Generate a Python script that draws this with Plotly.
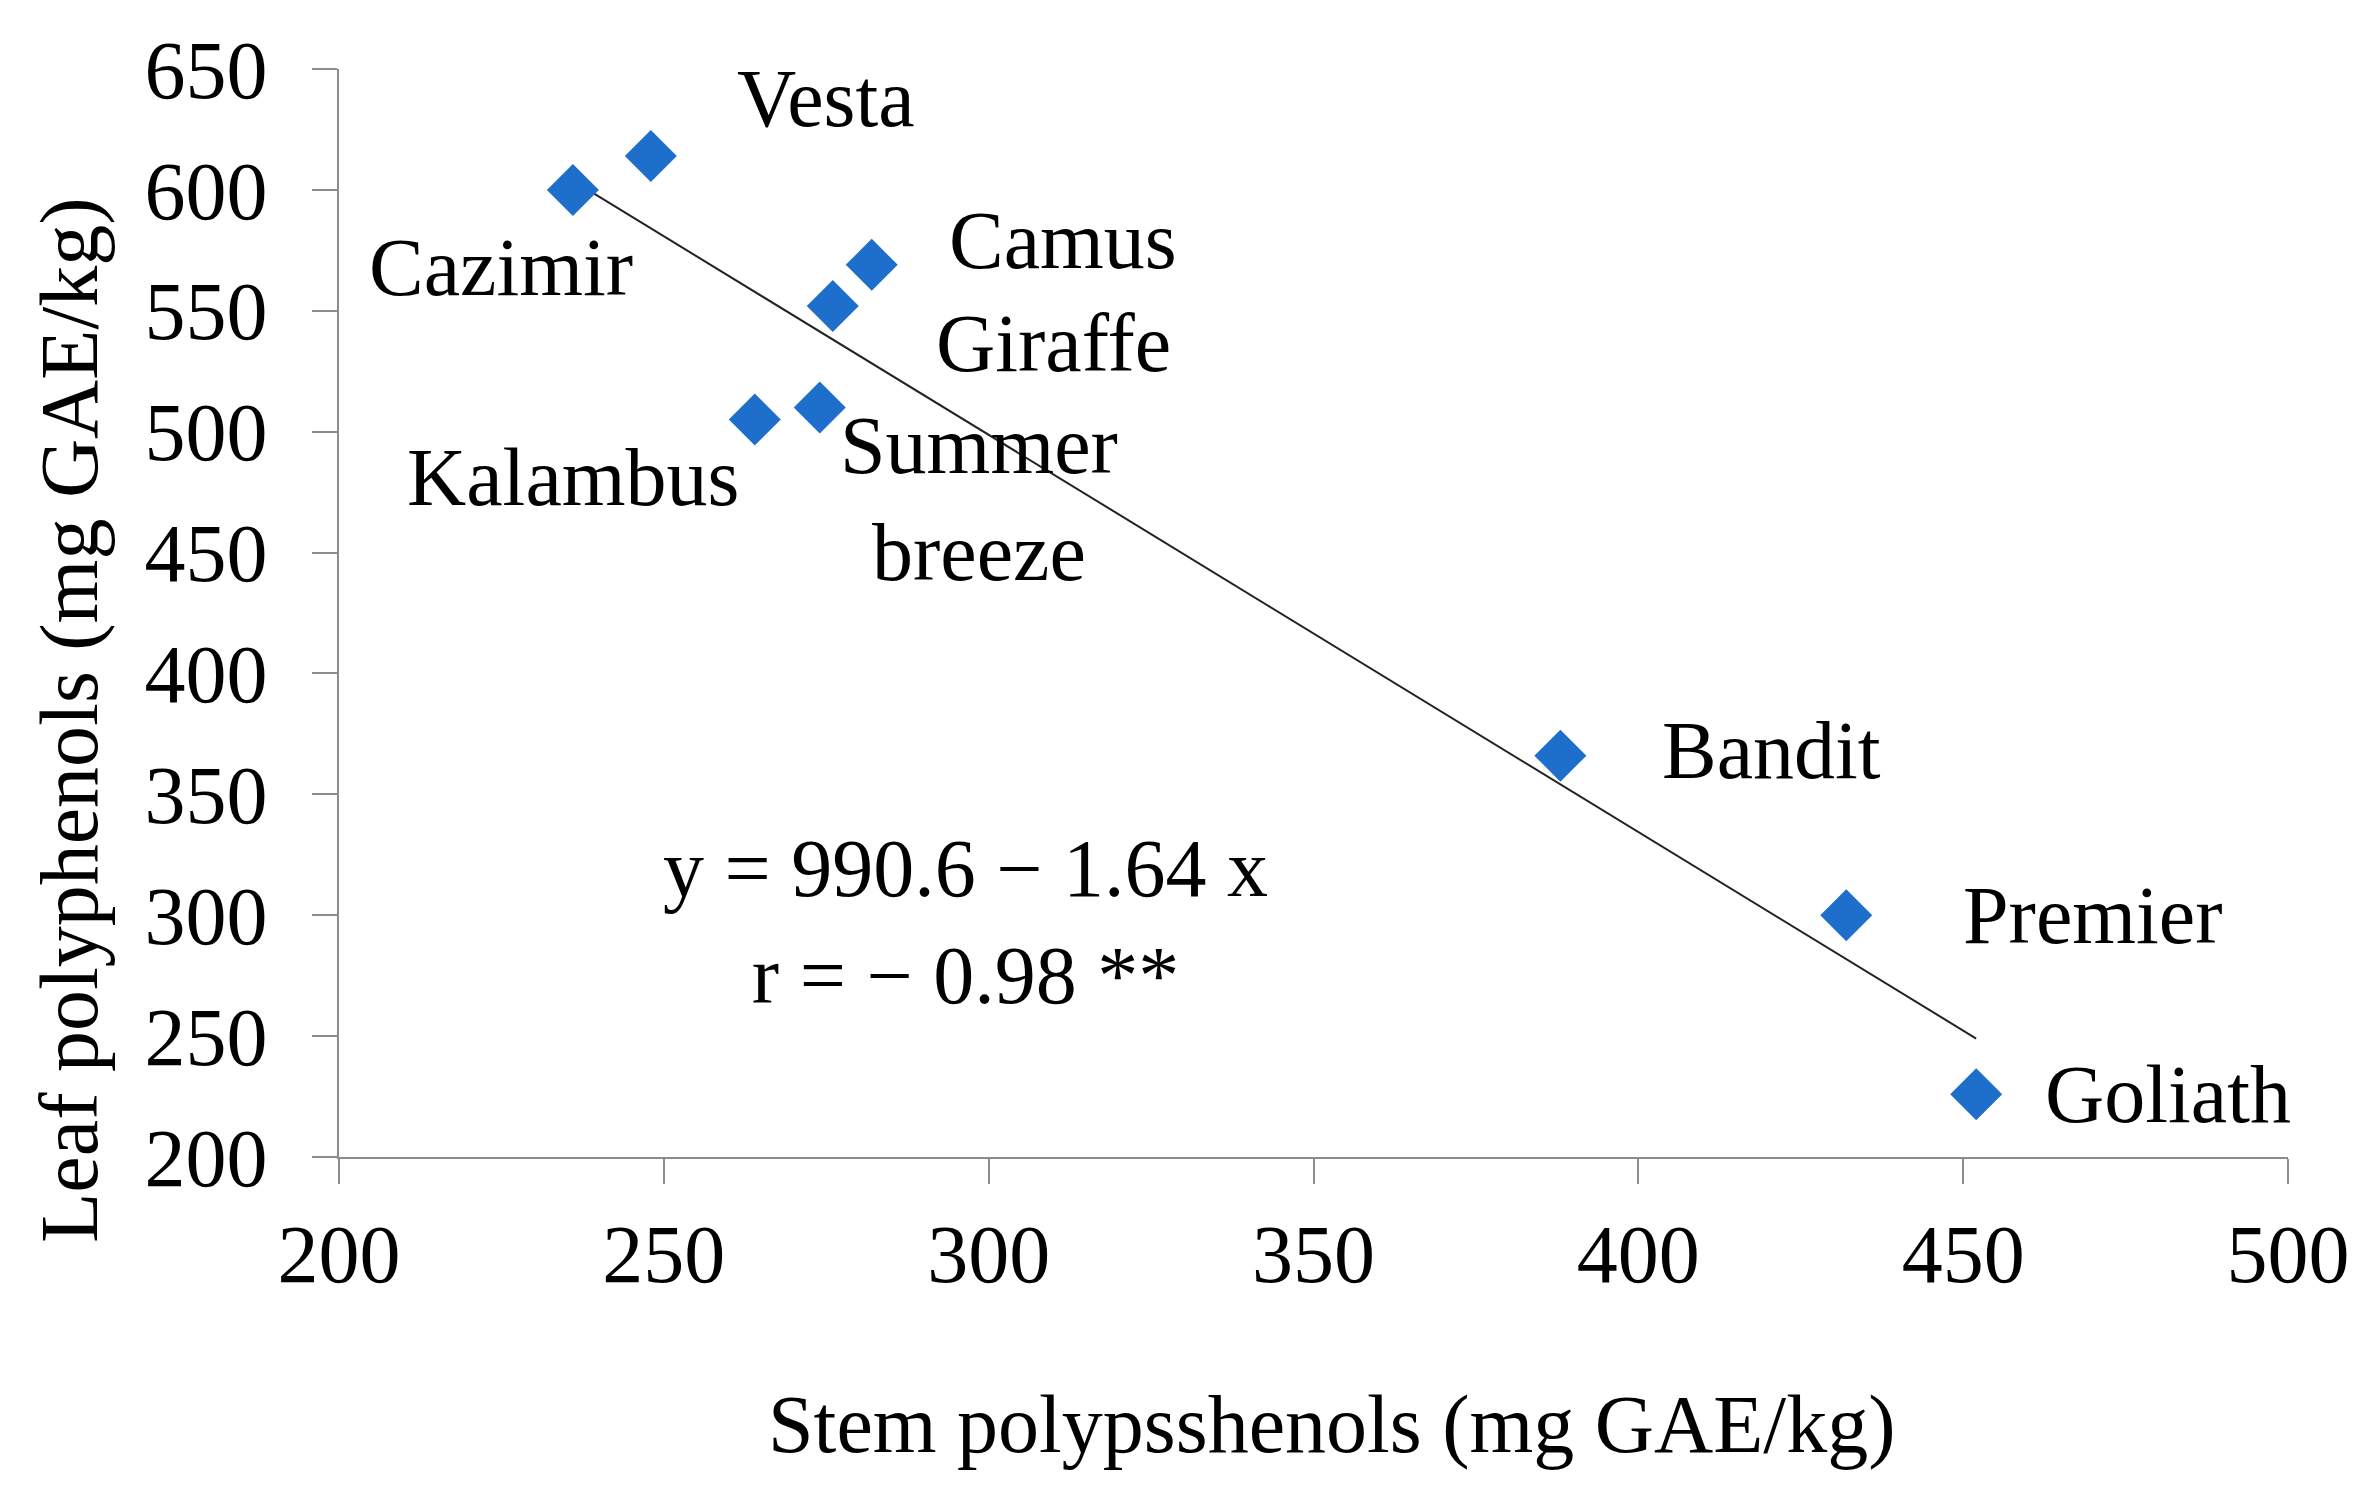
import plotly.graph_objects as go

# cultivar data
cultivars = ["Cazimir", "Vesta", "Camus", "Giraffe", "Kalambus",
             "Summer<br>breeze", "Bandit", "Premier", "Goliath"]
stem = [236, 248, 282, 276, 264, 274, 388, 432, 452]
leaf = [600, 614, 569, 552, 505, 510, 366, 300, 226]

# where each cultivar name sits (data units)
label_x = [225, 275, 311.5, 310, 236, 298.5, 420.5, 470, 481.5]
label_y = [568, 638, 579, 536.5, 481, 472, 368, 300, 226]

# regression line as drawn
trend_x = [236.5, 452]
trend_y = [603, 249]

equation = "y = 990.6 − 1.64 x<br>r = − 0.98 **"
x_title = "Stem polypsshenols (mg GAE/kg)"
y_title = "Leaf polyphenols (mg GAE/kg)"

FONT = "Liberation Serif, Times New Roman, serif"
FS = 82

fig = go.Figure()

fig.add_trace(go.Scatter(
    x=trend_x, y=trend_y, mode="lines",
    line=dict(color="#222222", width=2),
    showlegend=False, hoverinfo="skip",
))

fig.add_trace(go.Scatter(
    x=stem, y=leaf, mode="markers", text=cultivars,
    marker=dict(symbol="diamond", size=40, color="#1E6FCB"),
    showlegend=False,
))

for name, lx, ly in zip(cultivars, label_x, label_y):
    fig.add_annotation(x=lx, y=ly, text=name, showarrow=False,
                       font=dict(size=FS, color="black", family=FONT))

fig.add_annotation(x=296.5, y=297, text=equation, showarrow=False,
                   font=dict(size=FS, color="black", family=FONT))

# axis titles (placed as in the original, slightly off-centre)
fig.add_annotation(xref="paper", yref="paper", x=0.509, y=-0.246,
                   text=x_title, showarrow=False,
                   xanchor="center", yanchor="middle",
                   font=dict(size=FS, color="black", family=FONT))
fig.add_annotation(xref="paper", yref="paper", x=-0.138, y=0.401,
                   text=y_title, showarrow=False, textangle=-90,
                   xanchor="center", yanchor="middle",
                   font=dict(size=FS, color="black", family=FONT))

axis_style = dict(
    showline=True, linecolor="#8c8c8c", linewidth=2,
    ticks="outside", ticklen=25, tickwidth=2, tickcolor="#8c8c8c",
    showgrid=False, zeroline=False, automargin=False,
    tickfont=dict(size=FS, color="black", family=FONT),
)

fig.update_layout(
    width=2365, height=1498,
    plot_bgcolor="white", paper_bgcolor="white",
    margin=dict(l=331, r=85, t=61, b=349),
    font=dict(family=FONT, color="black"),
    xaxis=dict(range=[200, 500], dtick=50, ticklabelstandoff=0, **axis_style),
    yaxis=dict(range=[200, 650], dtick=50, ticklabelstandoff=28, **axis_style),
)

fig.write_html("out.html")
